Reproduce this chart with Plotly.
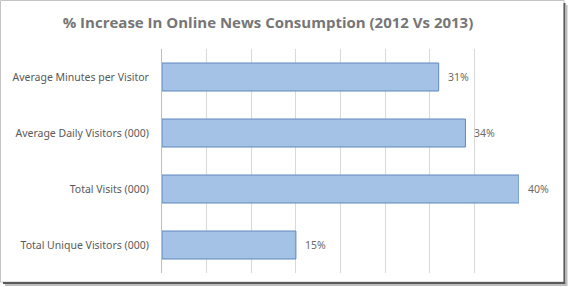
import plotly.graph_objects as go

# Data (bottom-to-top order as in the chart)
categories = ["Total Unique Visitors (000)", "Total Visits (000)",
              "Average Daily Visitors (000)", "Average Minutes per Visitor"]
values = [15, 40, 34, 31]
title_text = "% Increase In Online News Consumption (2012 Vs 2013)"

W, H = 568, 287
L, R, T, B = 162, 49, 49, 14
pw, ph = W - L - R, H - T - B

def px_x(px):
    return (px - L) / pw

def px_y(py):
    return (H - B - py) / ph

fig = go.Figure()
fig.add_trace(go.Bar(
    y=categories, x=values, orientation="h",
    marker=dict(color="#a4c1e6", line=dict(color="#5f88bd", width=1)),
    width=0.5, hoverinfo="skip",
))

for c, v in zip(categories, values):
    fig.add_annotation(x=v, y=c, text=f"{v}%", showarrow=False,
                       xanchor="left", xshift=7,
                       font=dict(family="Noto Sans", size=10.5, color="#6b6b6b"))

shapes = [
    dict(type="rect", xref="paper", yref="paper",
         x0=px_x(0.5), x1=px_x(564), y0=px_y(0.5), y1=px_y(282),
         line=dict(color="#c4c4c4", width=1), layer="below"),
    dict(type="line", xref="paper", yref="paper",
         x0=px_x(564.5), x1=px_x(564.5), y0=px_y(3), y1=px_y(284),
         line=dict(color="#5a5a5a", width=2)),
    dict(type="line", xref="paper", yref="paper",
         x0=px_x(3), x1=px_x(565.5), y0=px_y(283), y1=px_y(283),
         line=dict(color="#5a5a5a", width=2)),
    dict(type="line", xref="paper", yref="paper",
         x0=px_x(5), x1=px_x(567), y0=px_y(285), y1=px_y(285),
         line=dict(color="#bdbdbd", width=2)),
    dict(type="line", xref="paper", yref="paper",
         x0=px_x(566.5), x1=px_x(566.5), y0=px_y(5), y1=px_y(286),
         line=dict(color="#bdbdbd", width=2)),
]

fig.update_layout(
    width=W, height=H,
    margin=dict(l=L, r=R, t=T, b=B, autoexpand=False),
    paper_bgcolor="white", plot_bgcolor="white",
    showlegend=False,
    shapes=shapes,
    title=dict(text=f"<b>{title_text}</b>", x=268 / W, xanchor="center",
               y=1 - 23 / H, yanchor="middle",
               font=dict(family="Open Sans", size=15, color="#767676")),
    xaxis=dict(range=[0, 40], dtick=5, showgrid=True, gridcolor="#d9d9d9",
               gridwidth=1, showticklabels=False, zeroline=False, showline=False,
               ticks="", automargin=False),
    yaxis=dict(type="category", categoryorder="array", categoryarray=categories,
               showline=True, linecolor="#bfbfbf", linewidth=1, automargin=False,
               showgrid=False, ticks="outside", ticklen=10, tickcolor="rgba(0,0,0,0)",
               tickfont=dict(family="Noto Sans", size=10.5, color="#595959")),
)

fig.write_html("out.html")
